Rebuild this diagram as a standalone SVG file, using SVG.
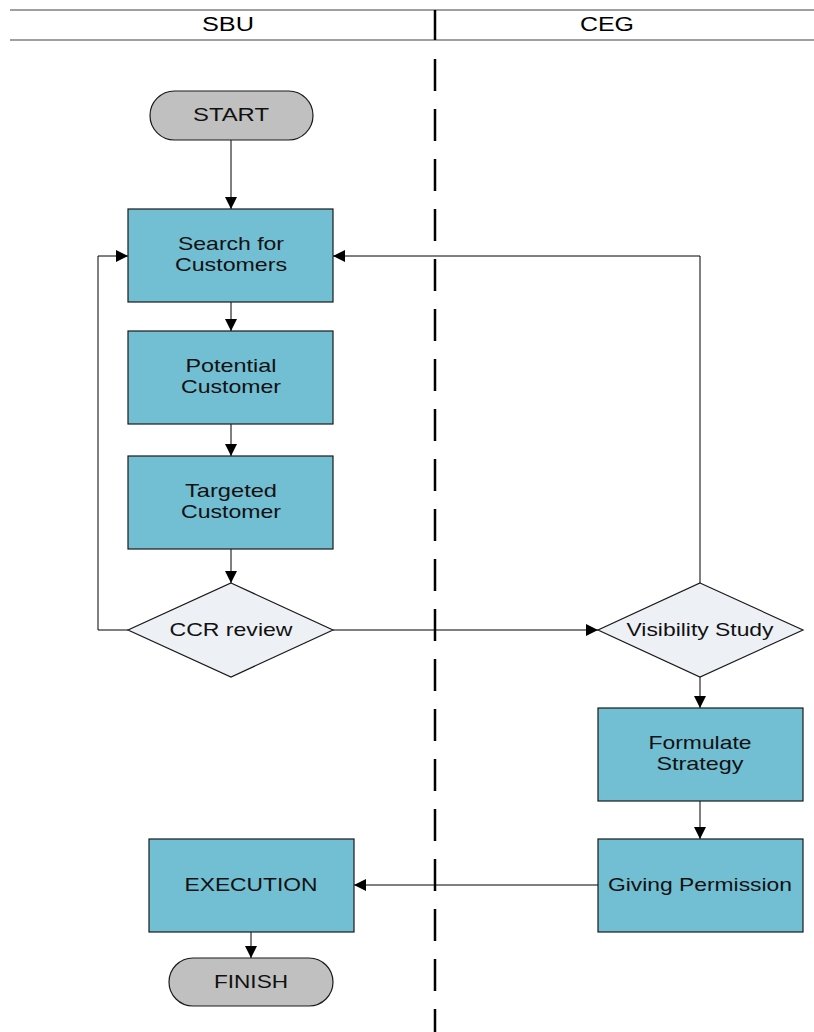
<svg xmlns="http://www.w3.org/2000/svg" width="814" height="1032" viewBox="0 0 814 1032">
  <style>
    .lane { stroke: #808080; stroke-width: 1.5; fill: none; }
    .divider { stroke: #000; stroke-width: 2.5; fill: none; }
    .hdr { font-family: "Liberation Sans", Arial, sans-serif; font-size: 20px; fill: #000; text-anchor: middle; }
    .proc { fill: #72bed2; stroke: #1a1a1a; stroke-width: 1.2; }
    .term { fill: #c0c0c0; stroke: #1a1a1a; stroke-width: 1.2; }
    .dec { fill: #edf0f5; stroke: #1a1a1a; stroke-width: 1.2; }
    .lbl { font-family: "Liberation Sans", Arial, sans-serif; font-size: 18.5px; fill: #111; text-anchor: middle; }
    .edge { stroke: #000; stroke-width: 1; fill: none; marker-end: url(#arrow); }
  </style>
  <defs>
    <marker id="arrow" markerWidth="12" markerHeight="12" refX="12" refY="6" orient="auto" markerUnits="userSpaceOnUse">
      <path d="M0,0 L12,6 L0,12 Z" fill="#000"/>
    </marker>
  </defs>

  <rect width="814" height="1032" fill="#fff"/>

  <!-- swimlane header -->
  <g id="lanes">
    <line class="lane" x1="10" y1="10" x2="814" y2="10"/>
    <line class="lane" x1="10" y1="40" x2="814" y2="40"/>
    <line class="divider" x1="435" y1="10" x2="435" y2="40"/>
    <line class="divider" x1="435" y1="59" x2="435" y2="1032" stroke-dasharray="32 18"/>
    <text class="hdr" x="228" y="31" textLength="52" lengthAdjust="spacingAndGlyphs">SBU</text>
    <text class="hdr" x="607" y="31" textLength="54" lengthAdjust="spacingAndGlyphs">CEG</text>
  </g>

  <!-- connectors -->
  <g id="connectors">
    <line class="edge" x1="231" y1="140" x2="231" y2="209"/>
    <line class="edge" x1="231" y1="302" x2="231" y2="331"/>
    <line class="edge" x1="231" y1="424" x2="231" y2="456"/>
    <line class="edge" x1="231" y1="549" x2="231" y2="583"/>
    <polyline class="edge" points="128,630 98,630 98,256 128,256"/>
    <line class="edge" x1="333" y1="630" x2="598" y2="630"/>
    <polyline class="edge" points="700,583 700,256 333,256"/>
    <line class="edge" x1="700" y1="677" x2="700" y2="708"/>
    <line class="edge" x1="700" y1="801" x2="700" y2="839"/>
    <line class="edge" x1="598" y1="885" x2="354" y2="885"/>
    <line class="edge" x1="251" y1="932" x2="251" y2="958"/>
  </g>

  <g id="start">
    <rect class="term" x="150" y="91" width="163" height="49" rx="24.5"/>
    <text class="lbl" x="231" y="121" textLength="76" lengthAdjust="spacingAndGlyphs">START</text>
  </g>
  <g id="search">
    <rect class="proc" x="128" y="209" width="205" height="93"/>
    <text class="lbl" x="231" y="250" textLength="106" lengthAdjust="spacingAndGlyphs">Search for</text>
    <text class="lbl" x="231" y="271" textLength="112" lengthAdjust="spacingAndGlyphs">Customers</text>
  </g>
  <g id="potential">
    <rect class="proc" x="128" y="331" width="205" height="93"/>
    <text class="lbl" x="231" y="372" textLength="91" lengthAdjust="spacingAndGlyphs">Potential</text>
    <text class="lbl" x="231" y="393" textLength="100" lengthAdjust="spacingAndGlyphs">Customer</text>
  </g>
  <g id="targeted">
    <rect class="proc" x="128" y="456" width="205" height="93"/>
    <text class="lbl" x="231" y="497" textLength="92" lengthAdjust="spacingAndGlyphs">Targeted</text>
    <text class="lbl" x="231" y="518" textLength="100" lengthAdjust="spacingAndGlyphs">Customer</text>
  </g>
  <g id="ccr">
    <polygon class="dec" points="231,583 333,630 231,677 128,630"/>
    <text class="lbl" x="231" y="636" textLength="123" lengthAdjust="spacingAndGlyphs">CCR review</text>
  </g>
  <g id="visibility">
    <polygon class="dec" points="700,583 803,630 700,677 598,630"/>
    <text class="lbl" x="700" y="636" textLength="147" lengthAdjust="spacingAndGlyphs">Visibility Study</text>
  </g>
  <g id="formulate">
    <rect class="proc" x="598" y="708" width="205" height="93"/>
    <text class="lbl" x="700" y="749" textLength="103" lengthAdjust="spacingAndGlyphs">Formulate</text>
    <text class="lbl" x="700" y="770" textLength="87" lengthAdjust="spacingAndGlyphs">Strategy</text>
  </g>
  <g id="permission">
    <rect class="proc" x="598" y="839" width="205" height="93"/>
    <text class="lbl" x="700" y="891" textLength="184" lengthAdjust="spacingAndGlyphs">Giving Permission</text>
  </g>
  <g id="execution">
    <rect class="proc" x="149" y="839" width="205" height="93"/>
    <text class="lbl" x="251" y="891" textLength="133" lengthAdjust="spacingAndGlyphs">EXECUTION</text>
  </g>
  <g id="finish">
    <rect class="term" x="169" y="958" width="164" height="48" rx="24"/>
    <text class="lbl" x="251" y="988" textLength="74" lengthAdjust="spacingAndGlyphs">FINISH</text>
  </g>
</svg>
